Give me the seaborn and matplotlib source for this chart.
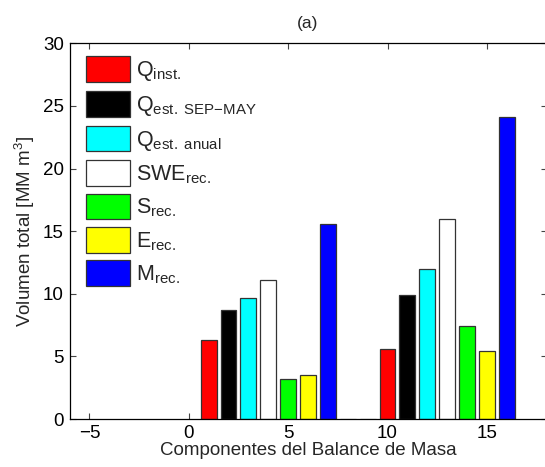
import matplotlib
matplotlib.use("Agg")
import matplotlib.pyplot as plt
import seaborn as sns
import pandas as pd

# Components of the mass balance (legend labels) and bar colours
components = [r"Q$_{\rm inst.}$",
              r"Q$_{\rm est.\ SEP\mathrm{-}MAY}$",
              r"Q$_{\rm est.\ anual}$",
              r"SWE$_{\rm rec.}$",
              r"S$_{\rm rec.}$",
              r"E$_{\rm rec.}$",
              r"M$_{\rm rec.}$"]
colors = ["#ff0000", "#000000", "#00ffff", "#ffffff", "#00ff00", "#ffff00", "#0000ff"]

# Bar positions of the two groups and the empty slots between them
positions_g1 = [1, 2, 3, 4, 5, 6, 7]
positions_g2 = [10, 11, 12, 13, 14, 15, 16]
gap_positions = [8, 9]

# Total volumes [MM m^3]
volumes_g1 = [6.3, 8.7, 9.7, 11.1, 3.2, 3.5, 15.6]
volumes_g2 = [5.6, 9.9, 12.0, 16.0, 7.4, 5.4, 24.1]
gap_volumes = [0, 0]

sns.set_theme(style="white")
plt.rcParams["font.family"] = ["Liberation Sans", "DejaVu Sans"]
plt.rcParams["mathtext.fontset"] = "custom"
plt.rcParams["mathtext.rm"] = "Liberation Sans"
plt.rcParams["mathtext.it"] = "Liberation Sans:italic"
plt.rcParams["mathtext.bf"] = "Liberation Sans:bold"

df = pd.DataFrame({
    "pos": positions_g1 + positions_g2,
    "vol": volumes_g1 + volumes_g2,
    "comp": components + components,
})

W, H = 545, 467
fig = plt.figure(figsize=(W / 100, H / 100), dpi=100)
ax = fig.add_axes([69.5 / W, 1 - 419 / H, (546.5 - 69.5) / W, (419 - 43.3) / H])

sns.barplot(data=df, x="pos", y="vol", hue="comp", hue_order=components,
            palette=colors, native_scale=True, dodge=False, width=0.8,
            edgecolor="#333333", linewidth=0.9, saturation=1, ax=ax)
sns.barplot(x=gap_positions, y=gap_volumes, native_scale=True, width=0.8,
            color="white", edgecolor="#888888", linewidth=0.9, saturation=1, ax=ax)

ax.set_xlim(-6, 18)
ax.set_ylim(0, 30)
ax.set_xticks([-5, 0, 5, 10, 15])
ax.set_xticklabels(["\u22125", "0", "5", "10", "15"])
ax.set_yticks([0, 5, 10, 15, 20, 25, 30])
ax.tick_params(direction="in", length=4, width=0.8, color="#444444",
               top=True, right=True, bottom=True, left=True,
               labelsize=13.5, pad=4, labelcolor="black")
for s in ax.spines.values():
    s.set_color("black")
    s.set_linewidth(0.9)

ax.set_xlabel("Componentes del Balance de Masa", fontsize=13.5, labelpad=0)
ax.set_ylabel(r"Volumen total [MM m$^3$]", fontsize=13.5, labelpad=4)
ax.set_title("(a)", fontsize=12.5, pad=11)

leg = ax.legend(loc="upper left", bbox_to_anchor=(0.017, 0.988), frameon=False,
                fontsize=15.5, handlelength=2.05, handleheight=1.45,
                labelspacing=0.36, handletextpad=0.25, borderaxespad=0.0,
                borderpad=0.4)

fig.savefig("out.png", dpi=100)
